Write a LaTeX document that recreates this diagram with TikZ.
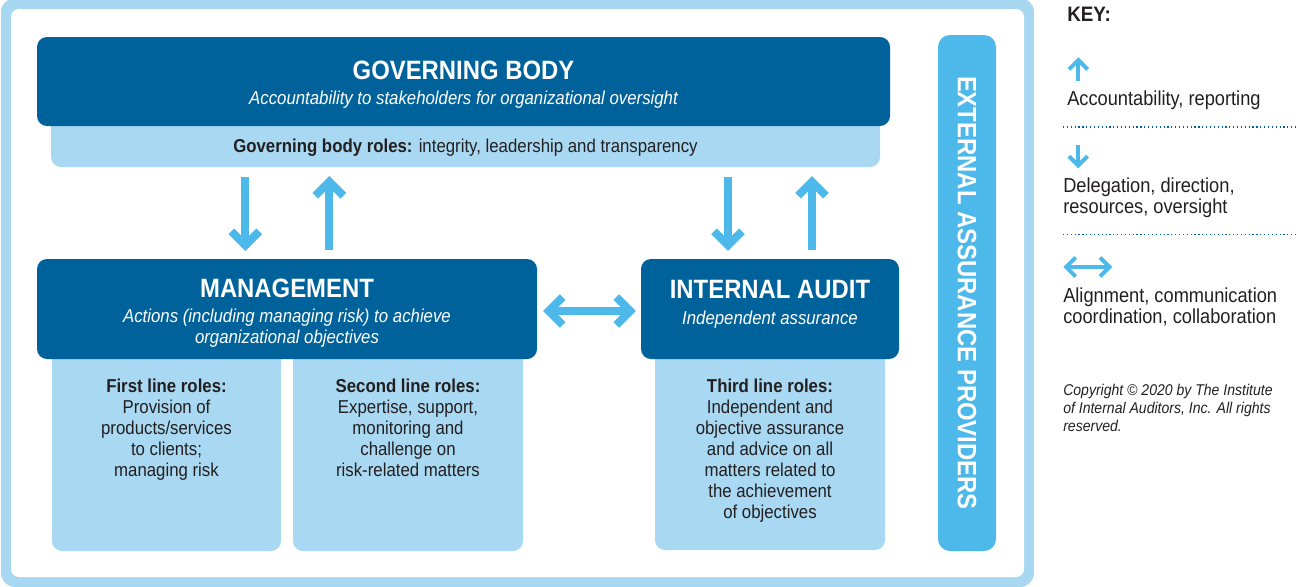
\documentclass[tikz,border=0pt]{standalone}
\usepackage{fontspec}
\setmainfont{Liberation Sans}[FakeStretch=0.9]
\usetikzlibrary{calc}
\definecolor{darkb}{HTML}{00629B}
\definecolor{lightb}{HTML}{A9D9F2}
\definecolor{frameb}{HTML}{A8D7F1}
\definecolor{midb}{HTML}{4DB9EA}
\definecolor{txt}{HTML}{231F20}
\begin{document}
\begin{tikzpicture}[x=0.75pt,y=-0.75pt,
  box/.style={inner sep=0, outer sep=0, anchor=north west, rounded corners=7.5pt},
  darkbox/.style={box, fill=darkb},
  lightbox/.style={box, fill=lightb},
  titletext/.style={text=white, font=\bfseries\fontsize{19.9}{24}\selectfont, anchor=base, inner sep=0},
  subtext/.style={text=white, font=\itshape\fontsize{14}{15.75}\selectfont, anchor=base, align=center, inner sep=0},
  bodytext/.style={text=txt, font=\fontsize{14}{15.75}\selectfont, anchor=base, align=center, inner sep=0},
  keytext/.style={text=txt, font=\fontsize{15.2}{15.75}\selectfont, anchor=base west, align=left, inner sep=0},
  shaft/.style={draw=midb, line width=6pt},
  chev/.style={draw=midb, line width=6pt, line join=miter},
  kshaft/.style={draw=midb, line width=3pt},
  kchev/.style={draw=midb, line width=3pt, line join=miter},
  sep/.style={draw=darkb, dotted, line width=0.9pt}
]
\useasboundingbox (0,0) rectangle (1296,586);
% frame
\fill[frameb, rounded corners=10.5pt] (1,-2) rectangle (1034,587);
\fill[white, rounded corners=6pt] (11,9) rectangle (1024,577);

% governing body
\node[lightbox, minimum width=829*0.75pt, minimum height=60*0.75pt] (gbroles) at (51,107) {};
\node[darkbox, minimum width=853*0.75pt, minimum height=89*0.75pt] (gb) at (37,37) {};
\node[titletext] (gbt) at (463.5,79) {GOVERNING BODY};
\node[subtext] (gbs) at (463.5,104) {Accountability to stakeholders for organizational oversight};
\node[bodytext] (gbr) at (465.5,152) {\textbf{Governing body roles:} integrity, leadership and transparency};

% management
\node[lightbox, minimum width=229*0.75pt, minimum height=211*0.75pt] (l1) at (52,340) {};
\node[lightbox, minimum width=230*0.75pt, minimum height=211*0.75pt] (l2) at (293,340) {};
\node[darkbox, minimum width=500*0.75pt, minimum height=100*0.75pt] (mg) at (37,259) {};
\node[titletext] (mgt) at (287,297) {MANAGEMENT};
\node[subtext] (mgs) at (287,343) {Actions (including managing risk) to achieve\\organizational objectives};
\node[bodytext] (l1t) at (166.5,476) {\textbf{First line roles:}\\Provision of\\products/services\\to clients;\\managing risk};
\node[bodytext] (l2t) at (408,476) {\textbf{Second line roles:}\\Expertise, support,\\monitoring and\\challenge on\\risk-related matters};

% internal audit
\node[lightbox, minimum width=230*0.75pt, minimum height=210*0.75pt] (l3) at (655,340) {};
\node[darkbox, minimum width=258*0.75pt, minimum height=100*0.75pt] (ia) at (641,259) {};
\node[titletext] (iat) at (770,298) {INTERNAL AUDIT};
\node[subtext] (ias) at (770,324) {Independent assurance};
\node[bodytext] (l3t) at (770,518) {\textbf{Third line roles:}\\Independent and\\objective assurance\\and advice on all\\matters related to\\the achievement\\of objectives};

% external assurance providers
\node[box, rounded corners=9pt, fill=midb, minimum width=58*0.75pt, minimum height=516*0.75pt] (ext) at (938,35) {};
\node[rotate=-90, text=white, font=\bfseries\fontsize{19.9}{22}\selectfont, inner sep=0] (extt) at (967,293) {EXTERNAL ASSURANCE PROVIDERS};

% arrows between governing body and management
\coordinate (a1s) at (245.3,177); \coordinate (a1e) at (245.3,245.3);
\draw[shaft] (a1s) -- (a1e);
\draw[chev] ($(a1e)+(-14,-14)$) -- (a1e) -- ($(a1e)+(14,-14)$);
\coordinate (a2s) at (329.3,250); \coordinate (a2e) at (329.3,181.7);
\draw[shaft] (a2s) -- (a2e);
\draw[chev] ($(a2e)+(-14,14)$) -- (a2e) -- ($(a2e)+(14,14)$);
% arrows between governing body and internal audit
\coordinate (a3s) at (728,177); \coordinate (a3e) at (728,245.3);
\draw[shaft] (a3s) -- (a3e);
\draw[chev] ($(a3e)+(-14,-14)$) -- (a3e) -- ($(a3e)+(14,-14)$);
\coordinate (a4s) at (812,250); \coordinate (a4e) at (812,181.7);
\draw[shaft] (a4s) -- (a4e);
\draw[chev] ($(a4e)+(-14,14)$) -- (a4e) -- ($(a4e)+(14,14)$);
% management <-> internal audit
\coordinate (h1) at (548.7,311); \coordinate (h2) at (630.3,311);
\draw[shaft] (h1) -- (h2);
\draw[chev] ($(h1)+(14,-14)$) -- (h1) -- ($(h1)+(14,14)$);
\draw[chev] ($(h2)+(-14,-14)$) -- (h2) -- ($(h2)+(-14,14)$);

% key
\node[keytext, font=\bfseries\fontsize{15.7}{18}\selectfont] (key) at (1067,21.7) {KEY:};
\coordinate (k1s) at (1078.3,80.7); \coordinate (k1e) at (1078.3,60.1);
\draw[kshaft] (k1s) -- (k1e);
\draw[kchev] ($(k1e)+(-9.3,9.3)$) -- (k1e) -- ($(k1e)+(9.3,9.3)$);
\node[keytext] (k1t) at (1067,105) {Accountability, reporting};
\draw[sep] (1063,127) -- (1296,127);
\coordinate (k2s) at (1078.3,145); \coordinate (k2e) at (1078.3,165.5);
\draw[kshaft] (k2s) -- (k2e);
\draw[kchev] ($(k2e)+(-9.3,-9.3)$) -- (k2e) -- ($(k2e)+(9.3,-9.3)$);
\node[keytext] (k2t) at (1063,213) {Delegation, direction,\\resources, oversight};
\draw[sep] (1063,234.5) -- (1296,234.5);
\coordinate (k3a) at (1066.1,267); \coordinate (k3b) at (1109.5,267);
\draw[kshaft] (k3a) -- (k3b);
\draw[kchev] ($(k3a)+(9.5,-9.5)$) -- (k3a) -- ($(k3a)+(9.5,9.5)$);
\draw[kchev] ($(k3b)+(-9.5,-9.5)$) -- (k3b) -- ($(k3b)+(-9.5,9.5)$);
\node[keytext] (k3t) at (1063,323) {Alignment, communication\\coordination, collaboration};
\node[keytext, font=\itshape\fontsize{11.7}{13.5}\selectfont] (copy) at (1063,431) {Copyright \textcopyright{} 2020 by The Institute\\of Internal Auditors, Inc. All rights\\reserved.};
\end{tikzpicture}
\end{document}
